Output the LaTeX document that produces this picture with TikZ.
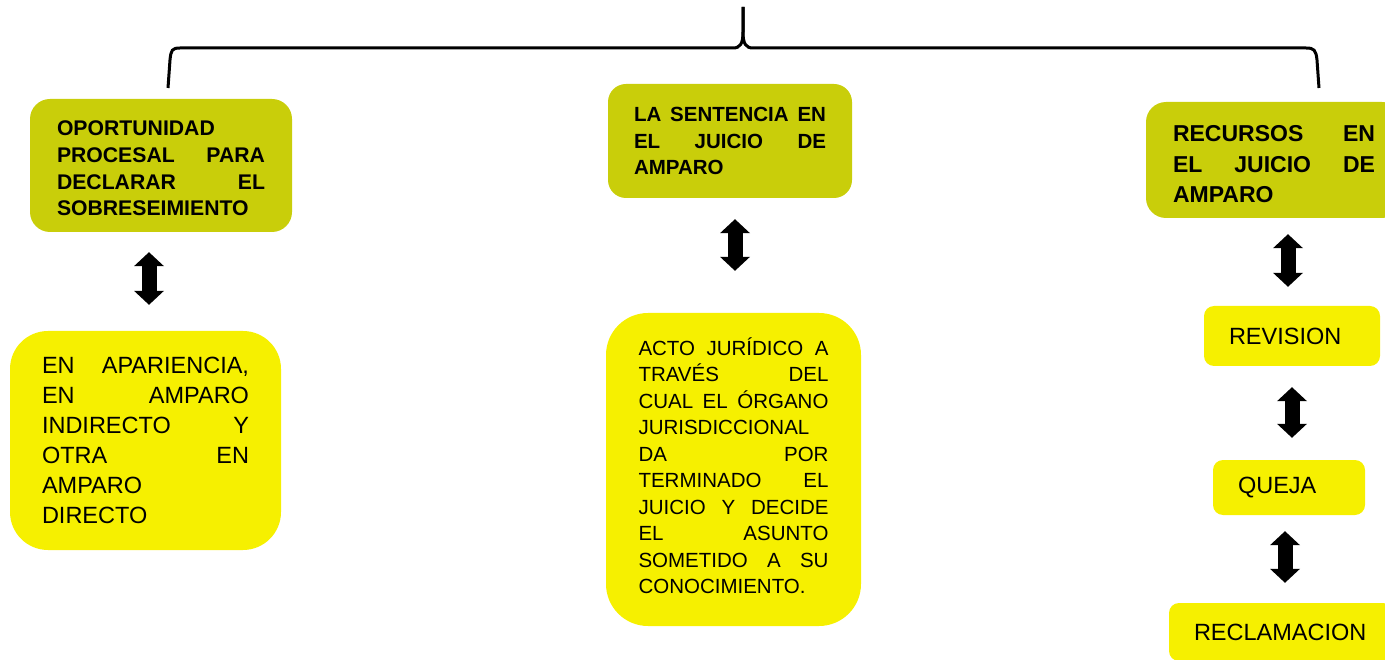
\documentclass[tikz,border=0pt]{standalone}
\usepackage{fontspec}
\setmainfont{Liberation Sans}
\usetikzlibrary{arrows.meta,calc,positioning}

\definecolor{oliva}{RGB}{201,206,10}
\definecolor{amarillo}{RGB}{246,240,0}

\tolerance=10000
\hbadness=10000
\hyphenpenalty=10000

\begin{document}
\begin{tikzpicture}[x=1pt, y=-1pt,
    tema/.style={rectangle, fill=oliva, rounded corners=20pt, align=justify, inner ysep=0pt},
    cuadro/.style={rectangle, fill=amarillo, align=justify, inner ysep=0pt},
    recurso/.style={rectangle, fill=amarillo, rounded corners=10pt, align=left, inner xsep=25pt, inner ysep=0pt, font=\fontsize{23.5}{28}\selectfont},
    flecha/.style={line width=15pt, {Triangle[width=30pt,length=14pt,line width=0pt]}-{Triangle[width=30pt,length=14pt,line width=0pt]}},
    llave/.style={line width=3pt}
]
    \useasboundingbox (0,0) rectangle (1385,660);

    % Llave
    \coordinate (llaveI) at (168,88);
    \coordinate (llaveD) at (1319,88);
    \coordinate (llaveS) at (743,7);
    \draw[llave] (llaveI) -- (170,60) .. controls (171,50) and (172,48) .. (180,48) -- (733,48)
        .. controls (740,48) and (743,44) .. (743,32) -- (llaveS);
    \draw[llave] (llaveS) -- (743,32) .. controls (743,44) and (746,48) .. (753,48) -- (1306,48)
        .. controls (1314,48) and (1316,50) .. (1317,60) -- (llaveD);

    % Temas
    \node[tema, text width=208pt, inner xsep=27pt, minimum height=133pt, text height=21pt, font=\fontsize{21.2}{26.7}\selectfont\bfseries] (opor) at (161,165.5)
        {OPORTUNIDAD\linebreak PROCESAL PARA\linebreak DECLARAR EL\linebreak SOBRESEIMIENTO};
    \node[tema, text width=192pt, inner xsep=26pt, minimum height=114pt, rounded corners=18pt, font=\fontsize{20.5}{26.5}\selectfont\bfseries] (sent) at (730,141)
        {LA SENTENCIA EN\linebreak EL JUICIO DE\linebreak AMPARO};
    \node[tema, text width=202pt, inner xsep=27pt, minimum height=116pt, text height=25pt, font=\fontsize{23}{30.5}\selectfont\bfseries] (recu) at (1274,160)
        {RECURSOS EN\linebreak EL JUICIO DE\linebreak AMPARO};

    % Contenidos
    \node[cuadro, text width=207pt, inner xsep=32pt, minimum height=219pt, rounded corners=38pt, font=\fontsize{23.5}{30}\selectfont] (apar) at (145.5,440.5)
        {EN APARIENCIA,\linebreak EN AMPARO\linebreak INDIRECTO Y\linebreak OTRA EN\linebreak AMPARO\linebreak DIRECTO};
    \node[cuadro, text width=190pt, inner xsep=32.5pt, minimum height=313pt, rounded corners=42pt, text height=10.7pt, font=\fontsize{20.5}{26.5}\selectfont] (acto) at (733.5,469.5)
        {ACTO JURÍDICO A\linebreak TRAVÉS DEL\linebreak CUAL EL ÓRGANO\linebreak JURISDICCIONAL\linebreak DA POR\linebreak TERMINADO EL\linebreak JUICIO Y DECIDE\linebreak EL ASUNTO\linebreak SOMETIDO A SU\linebreak CONOCIMIENTO.};

    % Recursos
    \node[recurso, text width=126pt, minimum height=60pt] (revi) at (1292,336) {REVISION};
    \node[recurso, text width=102pt, minimum height=55pt] (quej) at (1289,487.5) {QUEJA};
    \node[recurso, text width=174pt, minimum height=58pt] (recl) at (1281,632) {RECLAMACION};

    % Flechas
    \draw[flecha, shorten <=20pt, shorten >=26pt] ($(opor.south)+(-12,0)$) -- ($(opor.south |- apar.north)+(-12,0)$);
    \draw[flecha, shorten <=21pt, shorten >=42pt] ($(sent.south)+(5,0)$) -- ($(sent.south |- acto.north)+(5,0)$);
    \draw[flecha, shorten <=16pt, shorten >=19pt] ($(recu.south)+(14,0)$) -- ($(recu.south |- revi.north)+(14,0)$);
    \draw[flecha, shorten <=21pt, shorten >=22pt] (revi.south) -- (revi.south |- quej.north);
    \draw[flecha, shorten <=16pt, shorten >=20pt] ($(quej.south)+(-4,0)$) -- ($(quej.south |- recl.north)+(-4,0)$);

\end{tikzpicture}
\end{document}
